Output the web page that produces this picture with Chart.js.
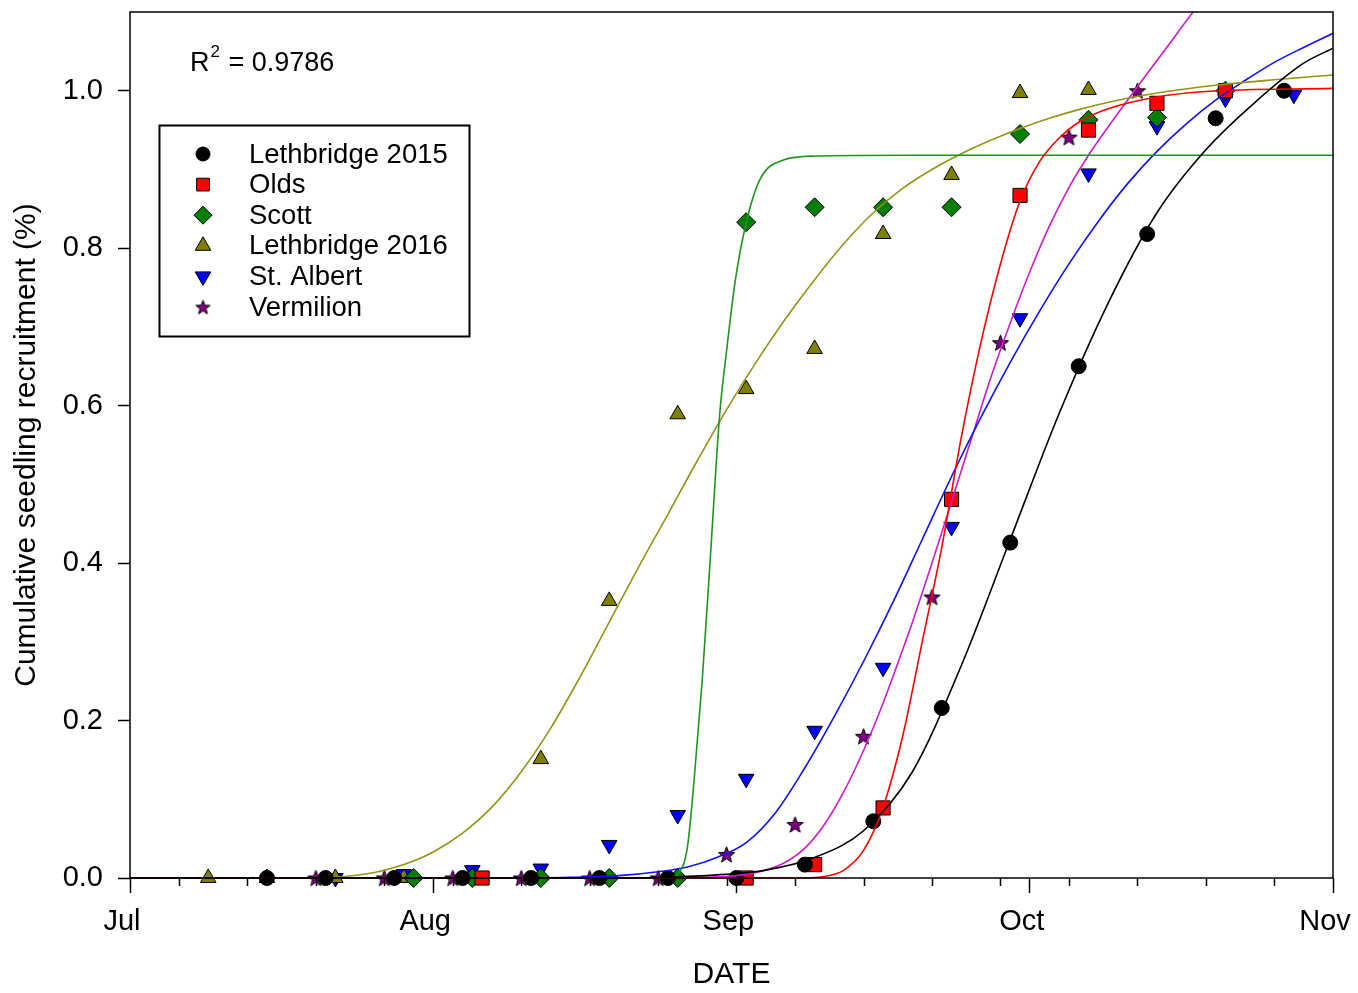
<!DOCTYPE html>
<html>
<head>
<meta charset="utf-8">
<script src="https://cdn.jsdelivr.net/npm/chart.js@4.4.0/dist/chart.umd.min.js"></script>
<style>
  body { margin: 0; background: #fff; }
  canvas { display: block; }
</style>
</head>
<body>
<canvas id="chart" width="1358" height="993"></canvas>
<script>
// x = days since Jul 1
const monthDays = [0, 31, 62, 92, 123];
const monthLabels = ['Jul', 'Aug', 'Sep', 'Oct', 'Nov'];
const weekDays = [5, 12, 19, 26, 33, 40, 47, 54, 61, 68, 75, 82, 89, 96, 103, 110, 117];
const yTicks = [0, 0.2, 0.4, 0.6, 0.8, 1.0];

// observed recruitment
const leth15Pts = [[14,0],[20,0],[27,0],[34,0],[41,0],[48,0],[55,0],[62,0],[69,0.017],[76,0.072],[83,0.216],[90,0.426],[97,0.65],[104,0.818],[111,0.965],[118,1.0]];
const oldsPts = [[36,0],[63,0],[70,0.017],[77,0.089],[84,0.481],[91,0.867],[98,0.95],[105,0.984],[112,1.0]];
const scottPts = [[29,0],[35,0],[42,0],[49,0],[56,0],[63,0.833],[70,0.852],[77,0.852],[84,0.852],[91,0.945],[98,0.963],[105,0.966],[112,1.0]];
const leth16Pts = [[8,0],[14,0],[21,0],[28,0],[35,0],[42,0.151],[49,0.352],[56,0.589],[63,0.621],[70,0.672],[77,0.818],[84,0.893],[91,0.997],[98,1.001]];
const stAlbertPts = [[21,0],[28,0.005],[35,0.01],[42,0.012],[49,0.042],[56,0.08],[63,0.126],[70,0.187],[77,0.267],[84,0.446],[91,0.711],[98,0.895],[105,0.955],[112,0.99],[119,0.995]];
const vermPts = [[19,0],[26,0],[33,0],[40,0],[47,0],[54,0],[61,0.03],[68,0.068],[75,0.18],[82,0.357],[89,0.68],[96,0.941],[103,1.0]];

// fitted curves
const leth15Fit = [[0,0],[50,0],[55,0.001],[60,0.004],[65,0.01],[70,0.026],[75,0.06],[80,0.135],[85,0.27],[90,0.43],[95,0.59],[100,0.73],[105,0.845],[110,0.925],[115,0.985],[120,1.035],[123,1.054]];
const oldsFit = [[0,0],[68,0],[71,0.002],[73,0.01],[75,0.035],[77,0.09],[79,0.18],[81,0.3],[83,0.42],[85,0.56],[87,0.68],[89,0.78],[91,0.86],[93,0.91],[95,0.94],[97,0.96],[100,0.977],[105,0.992],[110,0.999],[123,1.003]];
const scottFit = [[0,0],[55,0],[56,0.005],[57,0.04],[57.7,0.128],[58.5,0.25],[59.3,0.4],[60.3,0.59],[61,0.67],[61.9,0.76],[63,0.832],[64.4,0.887],[66.8,0.912],[70,0.917],[80,0.918],[123,0.918]];
const leth16Fit = [[0,0],[19,0],[22,0.002],[25,0.007],[28,0.017],[31,0.033],[34,0.057],[37,0.09],[40,0.135],[43,0.19],[46,0.255],[49,0.325],[52,0.395],[55,0.462],[58,0.53],[61,0.595],[64,0.655],[67,0.71],[70,0.76],[73,0.806],[76,0.845],[79,0.876],[82,0.9],[85,0.92],[88,0.937],[91,0.952],[94,0.965],[97,0.976],[101,0.988],[106,0.999],[111,1.007],[117,1.014],[123,1.02]];
const stAlbertFit = [[0,0],[40,0],[45,0.001],[50,0.003],[54,0.008],[57,0.014],[60,0.026],[63,0.045],[66,0.083],[69,0.14],[72,0.205],[75,0.275],[78,0.35],[81,0.43],[84,0.51],[87,0.585],[90,0.655],[93,0.72],[96,0.78],[99,0.834],[102,0.882],[105,0.923],[108,0.958],[111,0.988],[114,1.013],[117,1.036],[120,1.055],[123,1.073]];
const vermFit = [[0,0],[55,0],[59,0.001],[62,0.003],[65,0.01],[67,0.02],[69,0.038],[71,0.068],[73,0.11],[75,0.162],[77,0.222],[79,0.29],[80,0.325],[82,0.4],[84,0.478],[86,0.557],[88,0.635],[90,0.705],[92,0.77],[94,0.828],[96,0.877],[98,0.918],[100,0.954],[103,1.005],[106,1.055],[109,1.105],[112,1.15]];

const FONT = "'Liberation Sans', Arial, sans-serif";
Chart.defaults.font.family = FONT;
Chart.defaults.color = '#000';

function makeStar(size, fill) {
    const c = document.createElement('canvas');
    c.width = size; c.height = size;
    const g = c.getContext('2d');
    const R = size / 2 - 1, r = R * 0.42, cx = size / 2, cy = size / 2 + 0.8;
    g.beginPath();
    for (let i = 0; i < 10; i++) {
        const a = -Math.PI / 2 + i * Math.PI / 5;
        const rr = i % 2 ? r : R;
        g.lineTo(cx + Math.cos(a) * rr, cy + Math.sin(a) * rr);
    }
    g.closePath();
    g.fillStyle = fill; g.fill();
    g.lineWidth = 1; g.strokeStyle = '#000'; g.stroke();
    return c;
}

const series = [
    { label: 'Lethbridge 2015', pts: leth15Pts, fit: leth15Fit, style: 'circle', fill: '#000000', line: '#000000', r: 7.5, lr: 7, rot: 0 },
    { label: 'Olds', pts: oldsPts, fit: oldsFit, style: 'rect', fill: '#ff0000', line: '#ff0000', r: 10, lr: 9, rot: 0 },
    { label: 'Scott', pts: scottPts, fit: scottFit, style: 'rectRot', fill: '#007f00', line: '#1e961e', r: 9.5, lr: 9, rot: 0 },
    { label: 'Lethbridge 2016', pts: leth16Pts, fit: leth16Fit, style: 'triangle', fill: '#808000', line: '#949418', r: 9, lr: 9, rot: 0 },
    { label: 'St. Albert', pts: stAlbertPts, fit: stAlbertFit, style: 'triangle', fill: '#0000ff', line: '#1010ff', r: 9, lr: 9, rot: 180 },
    { label: 'Vermilion', pts: vermPts, fit: vermFit, style: makeStar(19, '#800080'), lstyle: makeStar(17, '#800080'), fill: '#800080', line: '#cc1ccc', r: 9, lr: 8, rot: 0 }
];

const toXY = arr => arr.map(([x, y]) => ({ x, y }));

const datasets = [];
series.forEach(s => {
    datasets.push({
        label: s.label + ' fit',
        data: toXY(s.fit),
        showLine: true,
        pointRadius: 0,
        borderColor: s.line,
        borderWidth: 1.6,
        cubicInterpolationMode: 'monotone',
        fill: false,
        order: 0,
        clip: { left: 0, top: 0, right: 0, bottom: 3 }
    });
});
series.forEach(s => {
    datasets.push({
        label: s.label,
        data: toXY(s.pts),
        showLine: false,
        pointStyle: s.style,
        pointRadius: s.r,
        pointRotation: s.rot,
        pointBackgroundColor: s.fill,
        pointBorderColor: '#000',
        pointBorderWidth: 1,
        order: 1,
        clip: false
    });
});

const frameAndTicks = {
    id: 'frameAndTicks',
    afterDraw(chart) {
        const { ctx, chartArea: a, scales } = chart;
        ctx.save();
        ctx.strokeStyle = '#000';
        ctx.lineWidth = 1.5;
        ctx.strokeRect(a.left, a.top, a.right - a.left, a.bottom - a.top);
        // weekly minor ticks
        ctx.beginPath();
        weekDays.forEach(d => {
            const x = Math.round(scales.x.getPixelForValue(d)) + 0.5;
            ctx.moveTo(x, a.bottom);
            ctx.lineTo(x, a.bottom + 8);
        });
        ctx.stroke();

        // R^2 label
        ctx.fillStyle = '#000';
        ctx.textBaseline = 'alphabetic';
        ctx.font = '27px ' + FONT;
        ctx.fillText('R', 190, 71);
        const w = ctx.measureText('R').width;
        ctx.font = '17px ' + FONT;
        ctx.fillText('2', 190 + w + 1, 57);
        const w2 = ctx.measureText('2').width;
        ctx.font = '27px ' + FONT;
        ctx.fillText(' = 0.9786', 190 + w + w2 + 2, 71);

        // legend box
        ctx.lineWidth = 2;
        ctx.strokeRect(159.5, 125.5, 310, 211);
        ctx.font = '27.5px ' + FONT;
        ctx.textBaseline = 'middle';
        series.forEach((s, i) => {
            const y = 154 + i * 30.6;
            ctx.fillStyle = s.fill;
            ctx.strokeStyle = '#000';
            ctx.lineWidth = 1;
            Chart.helpers.drawPoint(ctx, {
                pointStyle: s.lstyle || s.style,
                radius: s.lr,
                rotation: s.rot,
                borderWidth: 1
            }, 203, y);
            ctx.fillStyle = '#000';
            ctx.fillText(s.label, 249, y + 1);
        });
        ctx.restore();
    }
};

new Chart(document.getElementById('chart'), {
    type: 'scatter',
    data: { datasets },
    options: {
        responsive: false,
        animation: false,
        events: [],
        layout: { padding: { left: 0, top: 12, right: 25, bottom: 0 } },
        plugins: { legend: { display: false }, tooltip: { enabled: false } },
        scales: {
            x: {
                type: 'linear',
                min: 0,
                max: 123,
                afterBuildTicks: scale => { scale.ticks = monthDays.map(v => ({ value: v })); },
                afterFit: scale => { scale.height = 115; scale.paddingLeft = 0; scale.paddingRight = 0; },
                ticks: {
                    callback: v => monthLabels[monthDays.indexOf(v)],
                    font: { size: 29 },
                    padding: 12,
                    labelOffset: -8,
                    maxRotation: 0,
                    autoSkip: false
                },
                grid: { drawOnChartArea: false, tickLength: 15, tickColor: '#000', tickWidth: 1.5 },
                border: { display: false },
                title: { display: true, text: 'DATE', font: { size: 30 }, padding: { top: 0, bottom: 0 } }
            },
            y: {
                min: 0,
                max: 1.1,
                afterBuildTicks: scale => { scale.ticks = yTicks.map(v => ({ value: v })); },
                afterFit: scale => { scale.width = 130; scale.paddingTop = 0; scale.paddingBottom = 0; },
                ticks: {
                    callback: v => v.toFixed(1),
                    font: { size: 29 },
                    padding: 15
                },
                grid: { drawOnChartArea: false, tickLength: 12, tickColor: '#000', tickWidth: 1.5 },
                border: { display: false },
                title: { display: true, text: 'Cumulative seedling recruitment (%)', font: { size: 30 }, padding: { top: 9, bottom: 0 } }
            }
        }
    },
    plugins: [frameAndTicks]
});
</script>
</body>
</html>
